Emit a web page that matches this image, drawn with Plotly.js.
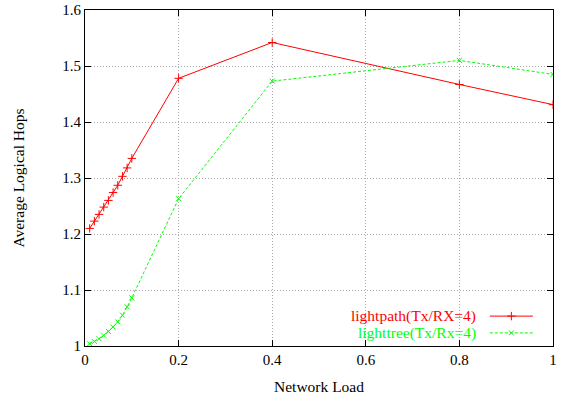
<!DOCTYPE html>
<html><head><meta charset="utf-8">
<script src="https://cdn.plot.ly/plotly-3.0.1.min.js"></script>
<style>html,body{margin:0;padding:0;background:#fff}#c{width:562px;height:400px}</style>
</head><body><div id="c"></div>
<script>
var loads = [0.01,0.02,0.03,0.04,0.05,0.06,0.07,0.08,0.09,0.1,0.2,0.4,0.8,1.0];
var lightpath = [1.210,1.223,1.235,1.248,1.260,1.274,1.287,1.303,1.318,1.335,1.478,1.542,1.467,1.431];
var lighttree = [1.004,1.008,1.013,1.019,1.026,1.034,1.043,1.055,1.070,1.086,1.263,1.473,1.510,1.485];
var seriesNames = ['lightpath(Tx/RX=4)','lighttree(Tx/Rx=4)'];
var xTicks = [0,0.2,0.4,0.6,0.8,1];
var xTickText = ['0','0.2','0.4','0.6','0.8','1'];
var yTicks = [1,1.1,1.2,1.3,1.4,1.5,1.6];
var yTickText = ['1','1.1','1.2','1.3','1.4','1.5','1.6'];

var RED='#ff0000', GREEN='#00ff00';
var font = {family:'"Liberation Serif", "DejaVu Serif", serif', size:14, color:'#000'};

var traces = [
  {x:loads, y:lightpath, name:seriesNames[0], mode:'lines+markers', type:'scatter',
   line:{color:RED, width:1}, marker:{symbol:'cross-thin', size:6, color:RED, line:{color:RED, width:1}}},
  {x:loads, y:lighttree, name:seriesNames[1], mode:'lines+markers', type:'scatter',
   line:{color:GREEN, width:1, dash:'3px,2px'}, marker:{symbol:'x-thin', size:5, color:GREEN, line:{color:GREEN, width:1}}},
  // legend samples on an overlay axis in paper-like units
  {x:[0.865,0.957], y:[0.089,0.089], xaxis:'x2', yaxis:'y2', mode:'lines', showlegend:false, hoverinfo:'skip',
   line:{color:RED, width:1}},
  {x:[0.911], y:[0.089], xaxis:'x2', yaxis:'y2', mode:'markers', showlegend:false, hoverinfo:'skip',
   marker:{symbol:'cross-thin', size:6, color:RED, line:{color:RED, width:1}}},
  {x:[0.865,0.957], y:[0.039,0.039], xaxis:'x2', yaxis:'y2', mode:'lines', showlegend:false, hoverinfo:'skip',
   line:{color:GREEN, width:1, dash:'3px,2px'}},
  {x:[0.911], y:[0.039], xaxis:'x2', yaxis:'y2', mode:'markers', showlegend:false, hoverinfo:'skip',
   marker:{symbol:'x-thin', size:5, color:GREEN, line:{color:GREEN, width:1}}}
];

var layout = {
  width:562, height:400,
  margin:{l:85, r:9, t:10, b:54},
  paper_bgcolor:'#fff', plot_bgcolor:'#fff',
  font:font,
  showlegend:false,
  xaxis:{range:[0,1], tickvals:xTicks, ticktext:xTickText, showgrid:true, gridcolor:'#a8a8a8', griddash:'1px,2px', gridwidth:1,
    zeroline:false, showline:true, linecolor:'#000', linewidth:1, mirror:'ticks', ticks:'inside', ticklen:6, tickcolor:'#000',
    tickfont:{family:font.family, size:15, color:'#000'},
    title:{text:'Network Load', font:{family:font.family, size:15.5, color:'#000'}, standoff:14}},
  yaxis:{range:[1,1.6], tickvals:yTicks, ticktext:yTickText, showgrid:true, gridcolor:'#a8a8a8', griddash:'1px,2px', gridwidth:1,
    zeroline:false, showline:true, linecolor:'#000', linewidth:1, mirror:'ticks', ticks:'inside', ticklen:6, tickcolor:'#000',
    tickfont:{family:font.family, size:15, color:'#000'},
    title:{text:'Average Logical Hops', font:{family:font.family, size:15.5, color:'#000'}, standoff:33}},
  xaxis2:{range:[0,1], overlaying:'x', visible:false, fixedrange:true},
  yaxis2:{range:[0,1], overlaying:'y', visible:false, fixedrange:true},
  annotations:[
    {xref:'paper', yref:'paper', x:0.840, y:0.089, xanchor:'right', yanchor:'middle', showarrow:false,
     text:seriesNames[0], font:{family:font.family, size:15.5, color:RED}},
    {xref:'paper', yref:'paper', x:0.840, y:0.039, xanchor:'right', yanchor:'middle', showarrow:false,
     text:seriesNames[1], font:{family:font.family, size:15.5, color:GREEN}}
  ]
};
Plotly.newPlot('c', traces, layout, {staticPlot:true, displayModeBar:false});
</script></body></html>
